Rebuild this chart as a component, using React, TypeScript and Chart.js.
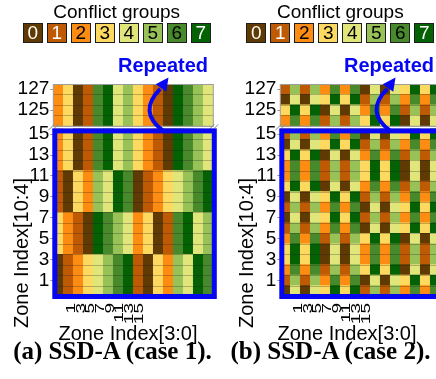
import React, { useEffect, useRef } from 'react';
import { Chart, registerables } from 'chart.js';

Chart.register(...registerables);

// ---------- data ----------
const columnIndex = [0, 1, 2, 3, 4, 5, 6, 7, 8, 9, 10, 11, 12, 13, 14, 15];
const rowLabels = [0, 1, 2, 3, 4, 5, 6, 7, 8, 9, 10, 11, 12, 13, 14, 15, 124, 125, 126, 127];
const yTickRows = [1, 3, 5, 7, 9, 11, 13, 15, 125, 127];
const xTickValues = [1, 3, 5, 7, 9, 11, 13, 15];
const groupIds = [0, 1, 2, 3, 4, 5, 6, 7];
const groupColors = ['#5f3a03', '#bf5a04', '#fd8c12', '#fed95f', '#e0e67a', '#98c157', '#488a2b', '#046204'];
const groupTextColors = ['#fff', '#fff', '#000', '#000', '#000', '#000', '#000', '#fff'];

// rows in the order of rowLabels (0..15, then 124..127)
const case1Groups = [
  [0, 1, 2, 3, 4, 5, 6, 7, 1, 0, 3, 2, 5, 4, 7, 6],
  [0, 1, 2, 3, 4, 5, 6, 7, 1, 0, 3, 2, 5, 4, 7, 6],
  [0, 1, 2, 3, 4, 5, 6, 7, 1, 0, 3, 2, 5, 4, 7, 6],
  [0, 1, 2, 3, 4, 5, 6, 7, 1, 0, 3, 2, 5, 4, 7, 6],
  [3, 2, 1, 0, 7, 6, 5, 4, 2, 3, 0, 1, 6, 7, 4, 5],
  [3, 2, 1, 0, 7, 6, 5, 4, 2, 3, 0, 1, 6, 7, 4, 5],
  [3, 2, 1, 0, 7, 6, 5, 4, 2, 3, 0, 1, 6, 7, 4, 5],
  [3, 2, 1, 0, 7, 6, 5, 4, 2, 3, 0, 1, 6, 7, 4, 5],
  [1, 0, 3, 2, 5, 4, 7, 6, 0, 1, 2, 3, 4, 5, 6, 7],
  [1, 0, 3, 2, 5, 4, 7, 6, 0, 1, 2, 3, 4, 5, 6, 7],
  [1, 0, 3, 2, 5, 4, 7, 6, 0, 1, 2, 3, 4, 5, 6, 7],
  [1, 0, 3, 2, 5, 4, 7, 6, 0, 1, 2, 3, 4, 5, 6, 7],
  [2, 3, 0, 1, 6, 7, 4, 5, 3, 2, 1, 0, 7, 6, 5, 4],
  [2, 3, 0, 1, 6, 7, 4, 5, 3, 2, 1, 0, 7, 6, 5, 4],
  [2, 3, 0, 1, 6, 7, 4, 5, 3, 2, 1, 0, 7, 6, 5, 4],
  [2, 3, 0, 1, 6, 7, 4, 5, 3, 2, 1, 0, 7, 6, 5, 4],
  [2, 3, 0, 1, 6, 7, 4, 5, 3, 2, 1, 0, 7, 6, 5, 4],
  [2, 3, 0, 1, 6, 7, 4, 5, 3, 2, 1, 0, 7, 6, 5, 4],
  [2, 3, 0, 1, 6, 7, 4, 5, 3, 2, 1, 0, 7, 6, 5, 4],
  [2, 3, 0, 1, 6, 7, 4, 5, 3, 2, 1, 0, 7, 6, 5, 4],
];

const case2Groups = [
  [0, 4, 0, 4, 3, 7, 3, 7, 1, 5, 1, 5, 2, 6, 2, 6],
  [1, 5, 1, 5, 2, 6, 2, 6, 0, 4, 0, 4, 3, 7, 3, 7],
  [2, 6, 2, 6, 1, 5, 1, 5, 3, 7, 3, 7, 0, 4, 0, 4],
  [3, 7, 3, 7, 0, 4, 0, 4, 2, 6, 2, 6, 1, 5, 1, 5],
  [3, 7, 3, 7, 0, 4, 0, 4, 2, 6, 2, 6, 1, 5, 1, 5],
  [2, 6, 2, 6, 1, 5, 1, 5, 3, 7, 3, 7, 0, 4, 0, 4],
  [1, 5, 1, 5, 2, 6, 2, 6, 0, 4, 0, 4, 3, 7, 3, 7],
  [0, 4, 0, 4, 3, 7, 3, 7, 1, 5, 1, 5, 2, 6, 2, 6],
  [1, 5, 1, 5, 2, 6, 2, 6, 0, 4, 0, 4, 3, 7, 3, 7],
  [0, 4, 0, 4, 3, 7, 3, 7, 1, 5, 1, 5, 2, 6, 2, 6],
  [3, 7, 3, 7, 0, 4, 0, 4, 2, 6, 2, 6, 1, 5, 1, 5],
  [2, 6, 2, 6, 1, 5, 1, 5, 3, 7, 3, 7, 0, 4, 0, 4],
  [2, 6, 2, 6, 1, 5, 1, 5, 3, 7, 3, 7, 0, 4, 0, 4],
  [3, 7, 3, 7, 0, 4, 0, 4, 2, 6, 2, 6, 1, 5, 1, 5],
  [0, 4, 0, 4, 3, 7, 3, 7, 1, 5, 1, 5, 2, 6, 2, 6],
  [1, 5, 1, 5, 2, 6, 2, 6, 0, 4, 0, 4, 3, 7, 3, 7],
  [2, 6, 2, 6, 1, 5, 1, 5, 3, 7, 3, 7, 0, 4, 0, 4],
  [3, 7, 3, 7, 0, 4, 0, 4, 2, 6, 2, 6, 1, 5, 1, 5],
  [0, 4, 0, 4, 3, 7, 3, 7, 1, 5, 1, 5, 2, 6, 2, 6],
  [1, 5, 1, 5, 2, 6, 2, 6, 0, 4, 0, 4, 3, 7, 3, 7],
];

// ---------- styling / layout ----------
const SANS = '"Liberation Sans", Arial, sans-serif';
const SERIF = '"Liberation Serif", "Times New Roman", serif';
const BLUE = '#0606f2';
const BREAK_GAP = 0.3; // axis break between row 15 and row 124
const Y_MAX = 16 + BREAK_GAP + 4;

const rowPos = (r: number) => (r <= 15 ? r : 16 + BREAK_GAP + (r - 124));

const overlayPlugin = {
  id: 'zoneOverlay',
  afterDatasetsDraw(chart: any) {
    const { ctx, chartArea: ca, scales } = chart;
    const y = scales.y;
    const L = ca.left;
    const R = ca.right;
    ctx.save();
    // row separators
    ctx.strokeStyle = 'rgba(30,30,30,0.28)';
    ctx.lineWidth = 1;
    rowLabels.forEach((r) => {
      const py = Math.round(y.getPixelForValue(rowPos(r))) + 0.5;
      ctx.beginPath();
      ctx.moveTo(L, py);
      ctx.lineTo(R, py);
      ctx.stroke();
    });
    // frame of the upper (repeated) section
    const tTop = y.getPixelForValue(rowPos(127) + 1);
    const tBot = y.getPixelForValue(rowPos(124));
    ctx.strokeStyle = '#9c9c9c';
    ctx.strokeRect(L, Math.round(tTop) + 0.5, R - L, tBot - tTop);
    // axis break marks
    const gy = (y.getPixelForValue(16) + tBot) / 2;
    ctx.strokeStyle = '#8a8a8a';
    ctx.lineWidth = 1;
    [L, R].forEach((xx) => {
      [-2, 2].forEach((o) => {
        ctx.beginPath();
        ctx.moveTo(xx + o - 3, gy + 3);
        ctx.lineTo(xx + o + 3, gy - 3);
        ctx.stroke();
      });
    });
    // blue box around rows 0..15
    const b16 = y.getPixelForValue(16);
    const b0 = y.getPixelForValue(0);
    ctx.strokeStyle = BLUE;
    ctx.lineWidth = 5;
    ctx.strokeRect(L + 1.5, b16 + 2, R - L - 0.5, b0 - b16 - 1.5);
    // "repeated" arrow
    const xb = L + ((R - L) * 11) / 16;
    ctx.lineWidth = 4;
    ctx.beginPath();
    ctx.moveTo(xb, b16 + 2);
    const ex = xb - 3;
    const ey = b16 - 40;
    ctx.quadraticCurveTo(xb - 26, b16 - 17, ex, ey);
    ctx.stroke();
    const tipX = xb + 5.2;
    const tipY = b16 - 51.5;
    const dx = tipX - ex;
    const dy = tipY - ey;
    const len = Math.hypot(dx, dy);
    const ux = dx / len;
    const uy = dy / len;
    const bx = tipX - ux * 13;
    const by = tipY - uy * 13;
    ctx.fillStyle = BLUE;
    ctx.beginPath();
    ctx.moveTo(tipX, tipY);
    ctx.lineTo(bx - uy * 6.5, by + ux * 6.5);
    ctx.lineTo(bx + uy * 6.5, by - ux * 6.5);
    ctx.closePath();
    ctx.fill();
    ctx.restore();
  },
  afterDraw(chart: any) {
    // column tick labels, rotated and narrowed as in the original figure
    const { ctx, scales } = chart;
    const xs = scales.x2;
    ctx.save();
    ctx.font = `19px ${SANS}`;
    ctx.fillStyle = '#000';
    ctx.textAlign = 'right';
    ctx.textBaseline = 'middle';
    xTickValues.forEach((v) => {
      const px = xs.getPixelForValue(v);
      ctx.save();
      ctx.translate(px, xs.top + 7);
      ctx.rotate(-Math.PI / 2);
      ctx.scale(1, 0.68);
      ctx.fillText(String(v), 0, 1);
      ctx.restore();
    });
    ctx.restore();
  },
};

type Layout = {
  canvasLeft: number;
  legendDx: number;
  repeatedLeft: number;
  captionCx: number;
  xTitleCx: number;
  yTitleCx: number;
};

function HeatPanel({ groups, caption, layout }: { groups: number[][]; caption: string; layout: Layout }) {
  const ref = useRef<HTMLCanvasElement | null>(null);

  useEffect(() => {
    if (!ref.current) return;
    const datasets = rowLabels.map((r, ri) => ({
      label: String(r),
      data: columnIndex.map(() => [rowPos(r), rowPos(r) + 1]),
      backgroundColor: groups[ri].map((g) => groupColors[g]),
      borderWidth: 0,
      barPercentage: 1,
      categoryPercentage: 1,
      grouped: false,
    }));
    const chart = new Chart(ref.current, {
      type: 'bar',
      data: { labels: columnIndex.map(String), datasets: datasets as any },
      options: {
        animation: false,
        responsive: false,
        maintainAspectRatio: false,
        layout: { padding: { top: 84, right: 12.7, left: 0, bottom: 0 } },
        plugins: { legend: { display: false }, tooltip: { enabled: false } },
        scales: {
          x: { type: 'category', display: false, offset: true },
          x2: {
            type: 'linear',
            position: 'bottom',
            min: -0.58,
            max: 28.4,
            afterBuildTicks: (s: any) => {
              s.ticks = xTickValues.map((v) => ({ value: v }));
            },
            afterFit: (s: any) => {
              s.height = 83;
            },
            ticks: {
              display: false,
              autoSkip: false,
              callback: (_v: any, i: number) => String(xTickValues[i]),
            },
            grid: { display: false, drawTicks: false },
            border: { display: false },
          },
          y: {
            type: 'linear',
            min: 0,
            max: Y_MAX,
            afterBuildTicks: (s: any) => {
              s.ticks = yTickRows.map((r) => ({ value: rowPos(r) + 0.5 }));
            },
            afterFit: (s: any) => {
              s.width = 53.3;
            },
            ticks: {
              autoSkip: false,
              padding: 1,
              color: '#000',
              font: { family: SANS, size: 19 },
              callback: (_v: any, i: number) => String(yTickRows[i]),
            },
            grid: { drawOnChartArea: false, drawTicks: true, tickLength: 3, color: '#999' },
            border: { display: false },
          },
        },
      } as any,
      plugins: [overlayPlugin],
    });
    return () => chart.destroy();
  }, [groups]);

  const abs = { position: 'absolute' as const, whiteSpace: 'nowrap' as const };
  return (
    <>
      <canvas
        ref={ref}
        width={226}
        height={379}
        style={{ position: 'absolute', left: layout.canvasLeft, top: 0, width: 226, height: 379 }}
      />
      <div
        style={{
          ...abs,
          left: layout.legendDx + 16.7,
          top: 2.2,
          width: 200,
          textAlign: 'center',
          font: `19px ${SANS}`,
          lineHeight: '19px',
          color: '#000',
        }}
      >
        Conflict groups
      </div>
      {groupIds.map((g) => (
        <div
          key={g}
          style={{
            ...abs,
            left: layout.legendDx + 22.7 + g * 24,
            top: 22.7,
            width: 20,
            height: 20.6,
            boxSizing: 'border-box',
            border: '1.5px solid #1e1e1e',
            background: groupColors[g],
            color: groupTextColors[g],
            font: `19px ${SANS}`,
            lineHeight: '17.6px',
            textAlign: 'center',
          }}
        >
          {String(g)}
        </div>
      ))}
      <div
        style={{
          ...abs,
          left: layout.repeatedLeft,
          top: 54.8,
          font: `bold 20px ${SANS}`,
          lineHeight: '20px',
          color: BLUE,
        }}
      >
        Repeated
      </div>
      <div
        style={{
          ...abs,
          left: layout.yTitleCx - 100,
          top: 252.5 - 10,
          width: 200,
          height: 20,
          textAlign: 'center',
          font: `20px ${SANS}`,
          lineHeight: '20px',
          color: '#000',
          transform: 'rotate(-90deg)',
        }}
      >
        Zone Index[10:4]
      </div>
      <div
        style={{
          ...abs,
          left: layout.xTitleCx - 100,
          top: 323.1,
          width: 200,
          textAlign: 'center',
          font: `20px ${SANS}`,
          lineHeight: '20px',
          color: '#000',
        }}
      >
        Zone Index[3:0]
      </div>
      <div
        style={{
          ...abs,
          left: layout.captionCx - 120,
          top: 338.1,
          width: 240,
          textAlign: 'center',
          font: `bold 25px ${SERIF}`,
          lineHeight: '25px',
          color: '#000',
        }}
      >
        {caption}
      </div>
    </>
  );
}

const layoutA: Layout = { canvasLeft: 0, legendDx: 0, repeatedLeft: 118, captionCx: 112.5, xTitleCx: 128, yTitleCx: 20.8 };
const layoutB: Layout = { canvasLeft: 227, legendDx: 223.6, repeatedLeft: 344, captionCx: 330.5, xTitleCx: 347, yTitleCx: 246 };

export default function App() {
  return (
    <div
      style={{
        position: 'absolute',
        left: 0,
        top: 0,
        width: 436,
        height: 379,
        overflow: 'hidden',
        background: '#fff',
      }}
    >
      <HeatPanel groups={case1Groups} caption="(a) SSD-A (case 1)." layout={layoutA} />
      <HeatPanel groups={case2Groups} caption="(b) SSD-A (case 2)." layout={layoutB} />
    </div>
  );
}
